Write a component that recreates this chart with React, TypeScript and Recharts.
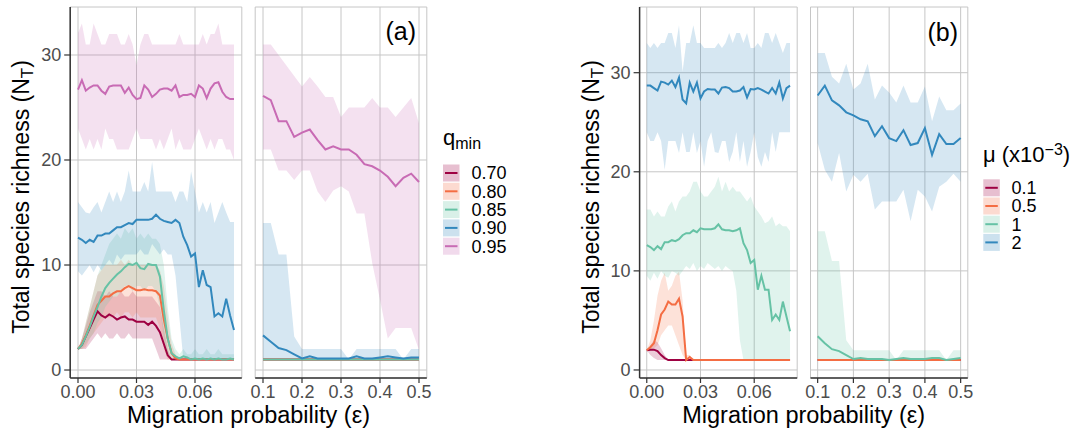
import React from 'react';
import { ComposedChart, Area, Line, XAxis, YAxis, CartesianGrid } from 'recharts';

const FONT = '"Liberation Sans", Arial, Helvetica, sans-serif';

// ---------- x grids ----------
const xLeft = [0, 0.002, 0.004, 0.006, 0.008, 0.01, 0.012, 0.014, 0.016, 0.018, 0.02, 0.022, 0.024, 0.026, 0.028, 0.03, 0.032, 0.034, 0.036, 0.038, 0.04, 0.042, 0.044, 0.046, 0.048, 0.05, 0.052, 0.054, 0.056, 0.058, 0.06, 0.062, 0.064, 0.066, 0.068, 0.07, 0.072, 0.074, 0.076, 0.078, 0.08];
const xRight = [0.1, 0.12, 0.14, 0.16, 0.18, 0.2, 0.22, 0.24, 0.26, 0.28, 0.3, 0.32, 0.34, 0.36, 0.38, 0.4, 0.42, 0.44, 0.46, 0.48, 0.5];

const xTicksLeft = [0, 0.03, 0.06];
const xTicksRight = [0.1, 0.2, 0.3, 0.4, 0.5];
const yTicks = [0, 10, 20, 30];

// ---------- panel (a): q_min ----------
const qLabels = ['0.70', '0.80', '0.85', '0.90', '0.95'];
const qColors = ['#9E0142', '#F46D43', '#66C2A5', '#3288BD', '#C86BB4'];

const a70Mean = [2.0, 2.4, 3.2, 4.0, 4.8, 5.6, 5.2, 5.0, 5.3, 5.1, 4.8, 5.0, 5.1, 4.8, 4.8, 4.6, 4.6, 4.6, 4.3, 4.6, 4.2, 3.6, 2.5, 1.4, 1, 1, 1, 1, 1, 1, 1, 1, 1, 1, 1, 1, 1, 1, 1, 1, 1];
const a70Hi = [2.0, 3.0, 4.2, 5.5, 6.5, 7.5, 7.5, 7.0, 7.5, 7.0, 7.0, 7.5, 7.0, 7.0, 7.5, 7.0, 7.0, 7.0, 7.0, 7.0, 6.5, 6.0, 4.0, 2.0, 1, 1, 1, 1, 1, 1, 1, 1, 1, 1, 1, 1, 1, 1, 1, 1, 1];
const a70Lo = [2.0, 2.0, 2.0, 2.5, 3.0, 3.5, 3.0, 3.5, 3.0, 3.0, 3.5, 3.0, 3.0, 3.5, 3.0, 3.0, 3.0, 3.0, 3.0, 3.0, 2.0, 1.0, 1.0, 1.0, 1, 1, 1, 1, 1, 1, 1, 1, 1, 1, 1, 1, 1, 1, 1, 1, 1];

const a80Mean = [2.0, 2.5, 3.3, 4.2, 5.2, 6.2, 6.6, 7.0, 7.0, 7.3, 7.5, 7.5, 7.8, 8.0, 7.8, 7.6, 7.6, 7.7, 7.6, 7.6, 7.5, 7.1, 4.8, 3.0, 1.6, 1.1, 1, 1, 1, 1, 1, 1, 1, 1, 1, 1, 1, 1, 1, 1, 1];
const a80Hi = [2.0, 3.0, 4.5, 6.0, 7.5, 9.0, 9.5, 10.0, 10.0, 10.0, 10.0, 10.5, 10.0, 10.5, 10.0, 10.0, 10.0, 10.0, 10.0, 10.0, 10.0, 9.5, 8.0, 5.0, 2.5, 1.5, 1, 1, 1, 1, 1, 1, 1, 1, 1, 1, 1, 1, 1, 1, 1];
const a80Lo = [2.0, 2.0, 2.2, 3.0, 3.5, 4.0, 4.5, 5.0, 5.0, 5.0, 5.5, 5.0, 5.5, 5.5, 5.0, 5.5, 5.0, 5.0, 5.0, 5.0, 5.0, 4.0, 2.0, 1.0, 1.0, 1.0, 1, 1, 1, 1, 1, 1, 1, 1, 1, 1, 1, 1, 1, 1, 1];

const a85Mean = [2.0, 2.4, 3.2, 4.1, 5.1, 6.0, 7.0, 7.8, 8.3, 8.7, 9.1, 9.4, 9.8, 10.1, 10.0, 10.2, 9.7, 9.6, 10.1, 10.0, 10.0, 8.9, 5.7, 3.0, 1.6, 1.3, 1.1, 1.3, 1.2, 1.0, 1.1, 1.0, 1.1, 1.0, 1.1, 1.0, 1.1, 1.0, 1.0, 1.1, 1.0];
const a85Hi = [2.0, 3.0, 4.5, 6.0, 7.5, 9.0, 10.0, 11.0, 12.0, 12.5, 13.0, 12.5, 13.5, 13.0, 13.5, 12.5, 13.0, 12.5, 13.0, 12.5, 12.5, 12.0, 10.0, 6.0, 3.0, 2.0, 1.5, 2.0, 1.5, 1.5, 2.0, 1.5, 1.5, 2.0, 1.5, 1.5, 2.0, 1.5, 1.5, 1.5, 1.5];
const a85Lo = [2.0, 2.0, 2.5, 3.0, 3.5, 4.5, 5.0, 6.0, 6.5, 7.0, 7.0, 7.5, 8.0, 8.0, 7.5, 8.0, 8.0, 7.5, 8.0, 8.0, 7.5, 6.0, 3.0, 1.5, 1, 1, 1, 1, 1, 1, 1, 1, 1, 1, 1, 1, 1, 1, 1, 1, 1];

const a90Mean = [12.6, 12.4, 12.1, 12.4, 12.2, 12.8, 12.8, 13.0, 13.0, 13.3, 13.6, 13.6, 13.8, 14.0, 13.9, 14.3, 14.3, 14.3, 14.3, 14.4, 14.8, 14.4, 14.2, 14.1, 14.0, 14.3, 14.0, 12.7, 11.9, 10.8, 11.1, 7.9, 9.5, 8.1, 7.9, 5.1, 5.4, 5.1, 6.8, 5.2, 3.8];
const a90Hi = [16.0, 15.5, 15.0, 14.9, 15.5, 16.0, 15.0, 16.0, 17.0, 16.0, 17.0, 16.0, 17.0, 19.0, 17.0, 17.0, 17.0, 17.9, 17.0, 19.8, 17.0, 17.0, 17.0, 17.0, 17.0, 16.0, 17.0, 17.0, 16.0, 18.9, 17.0, 15.0, 16.0, 15.0, 16.0, 14.0, 15.0, 16.0, 15.0, 14.1, 14.1];
const a90Lo = [9.4, 9.0, 9.5, 10.0, 9.3, 10.0, 9.5, 10.0, 10.5, 10.0, 11.0, 10.5, 11.0, 11.0, 11.0, 11.0, 11.5, 11.0, 11.0, 12.0, 11.5, 11.0, 11.5, 11.0, 11.0, 9.0, 5.0, 1, 1, 1, 1, 1, 1, 1, 1, 1, 1, 1, 1, 1, 1];

const a95Mean = [26.7, 27.6, 26.6, 26.9, 27.1, 27.1, 26.6, 26.3, 27.0, 27.1, 27.1, 27.1, 26.4, 26.9, 26.2, 25.8, 25.9, 27.1, 26.7, 26.0, 26.3, 26.7, 26.8, 26.8, 26.6, 27.1, 26.0, 26.2, 26.2, 26.3, 26.0, 27.1, 26.8, 25.9, 26.8, 27.3, 27.4, 26.5, 26.0, 25.8, 25.8];
const a95Hi = [32.1, 33.0, 31.0, 31.0, 33.0, 32.0, 31.0, 31.0, 32.0, 32.0, 32.0, 31.0, 31.0, 32.0, 31.0, 29.0, 31.0, 32.0, 32.0, 31.0, 31.0, 31.0, 31.0, 31.0, 31.0, 31.0, 32.0, 31.0, 31.0, 31.0, 31.0, 31.0, 32.0, 31.0, 32.0, 32.0, 33.0, 31.0, 31.0, 31.0, 31.0];
const a95Lo = [23, 22, 21, 22, 21, 22, 21, 23, 22, 22, 21, 21, 21, 21, 22, 23, 22, 22, 22, 22, 21, 22, 21, 22, 23, 21, 22, 21, 21, 21, 22, 23, 22, 21, 22, 21, 22, 22, 21, 21, 20];

const a70MeanR = [1, 1, 1, 1, 1, 1, 1, 1, 1, 1, 1, 1, 1, 1, 1, 1, 1, 1, 1, 1, 1];
const a70HiR = [1, 1, 1, 1, 1, 1, 1, 1, 1, 1, 1, 1, 1, 1, 1, 1, 1, 1, 1, 1, 1];
const a70LoR = [1, 1, 1, 1, 1, 1, 1, 1, 1, 1, 1, 1, 1, 1, 1, 1, 1, 1, 1, 1, 1];
const a80MeanR = [1, 1, 1, 1, 1, 1, 1, 1, 1, 1, 1, 1, 1, 1, 1, 1, 1, 1, 1, 1, 1];
const a80HiR = [1, 1, 1, 1, 1, 1, 1, 1, 1, 1, 1, 1, 1, 1, 1, 1, 1, 1, 1, 1, 1];
const a80LoR = [1, 1, 1, 1, 1, 1, 1, 1, 1, 1, 1, 1, 1, 1, 1, 1, 1, 1, 1, 1, 1];
const a85MeanR = [1, 1, 1, 1, 1, 1, 1, 1, 1, 1, 1, 1, 1, 1, 1, 1, 1, 1, 1, 1, 1];
const a85HiR = [1, 1, 1, 1, 1, 1, 1, 1, 1, 1, 1, 1, 1, 1, 1, 1, 1, 1, 1, 1, 1];
const a85LoR = [1, 1, 1, 1, 1, 1, 1, 1, 1, 1, 1, 1, 1, 1, 1, 1, 1, 1, 1, 1, 1];
const a90MeanR = [3.3, 2.7, 2.1, 1.9, 1.5, 1.1, 1.3, 1.1, 1.1, 1.1, 1.1, 1.1, 1.3, 1.1, 1.1, 1.2, 1.3, 1.2, 1.1, 1.2, 1.2];
const a90HiR = [14.0, 14.0, 11.0, 11.0, 3.2, 2.0, 2.0, 2.0, 2.0, 2.0, 2.0, 1.0, 2.0, 2.0, 2.0, 2.0, 2.0, 2.0, 1.0, 2.0, 2.0];
const a90LoR = [1, 1, 1, 1, 1, 1, 1, 1, 1, 1, 1, 1, 1, 1, 1, 1, 1, 1, 1, 1, 1];
const a95MeanR = [26.1, 25.7, 23.7, 23.7, 22.2, 22.6, 22.9, 21.9, 21.0, 21.3, 21.0, 21.0, 20.5, 19.6, 19.4, 19.0, 18.4, 17.5, 18.3, 18.7, 17.9];
const a95HiR = [31.0, 31.0, 30.0, 29.0, 28.0, 27.0, 27.9, 27.0, 26.0, 26.0, 24.1, 25.0, 25.0, 25.0, 25.9, 25.0, 25.0, 24.1, 25.0, 25.9, 23.5];
const a95LoR = [21.0, 21.0, 19.0, 19.0, 18.1, 19.0, 19.0, 17.0, 16.0, 17.1, 17.5, 17.0, 14.9, 14.9, 10.2, 6.7, 3.0, 4.0, 4.0, 4.0, 1.9];

// ---------- panel (b): mu ----------
const muLabels = ['0.1', '0.5', '1', '2'];
const muColors = ['#9E0142', '#F46D43', '#66C2A5', '#3288BD'];

const b01Mean = [2.0, 2.05, 2.05, 1.9, 1.5, 1.2, 1, 1, 1, 1, 1, 1, 1, 1, 1, 1, 1, 1, 1, 1, 1, 1, 1, 1, 1, 1, 1, 1, 1, 1, 1, 1, 1, 1, 1, 1, 1, 1, 1, 1, 1];
const b01Hi = [2.0, 2.5, 3.0, 2.8, 2.2, 1.5, 1, 1, 1, 1, 1, 1, 1, 1, 1, 1, 1, 1, 1, 1, 1, 1, 1, 1, 1, 1, 1, 1, 1, 1, 1, 1, 1, 1, 1, 1, 1, 1, 1, 1, 1];
const b01Lo = [2.0, 1.5, 1.2, 1, 1, 1, 1, 1, 1, 1, 1, 1, 1, 1, 1, 1, 1, 1, 1, 1, 1, 1, 1, 1, 1, 1, 1, 1, 1, 1, 1, 1, 1, 1, 1, 1, 1, 1, 1, 1, 1];

const b05Mean = [2.0, 2.3, 2.7, 4.0, 5.6, 6.1, 6.9, 6.6, 6.6, 7.2, 5.4, 1.0, 1.3, 1, 1, 1, 1, 1, 1, 1, 1, 1, 1, 1, 1, 1, 1, 1, 1, 1, 1, 1, 1, 1, 1, 1, 1, 1, 1, 1, 1];
const b05Hi = [2.0, 3.0, 5.0, 7.5, 9.0, 9.8, 8.0, 8.5, 9.5, 9.9, 7.0, 1.5, 1.5, 1, 1, 1, 1, 1, 1, 1, 1, 1, 1, 1, 1, 1, 1, 1, 1, 1, 1, 1, 1, 1, 1, 1, 1, 1, 1, 1, 1];
const b05Lo = [2.0, 2.0, 2.2, 2.5, 3.5, 4.0, 4.5, 4.5, 3.5, 2.5, 1.5, 1.0, 1.0, 1, 1, 1, 1, 1, 1, 1, 1, 1, 1, 1, 1, 1, 1, 1, 1, 1, 1, 1, 1, 1, 1, 1, 1, 1, 1, 1, 1];

const b1Mean = [12.6, 12.4, 12.1, 12.5, 12.2, 12.9, 12.9, 13.1, 13.0, 13.2, 13.6, 13.8, 13.8, 14.1, 13.9, 14.3, 14.2, 14.2, 14.2, 14.3, 14.7, 14.2, 14.1, 14.1, 14.0, 14.1, 14.3, 12.8, 12.1, 10.8, 11.1, 8.1, 9.5, 8.1, 8.1, 5.05, 5.6, 5.05, 6.9, 5.4, 3.9];
const b1Hi = [16.2, 16.2, 15.5, 16.0, 15.5, 15.5, 16.5, 17.0, 16.0, 17.0, 17.5, 17.5, 18.0, 19.0, 19.0, 18.0, 17.5, 17.5, 18.0, 18.5, 19.5, 18.0, 19.0, 18.0, 18.5, 18.0, 18.0, 17.5, 17.0, 17.5, 16.5, 16.0, 15.5, 14.8, 15.0, 15.5, 14.5, 14.8, 14.5, 14.5, 14.0];
const b1Lo = [9.5, 9.0, 9.8, 9.2, 10.0, 9.5, 9.3, 10.0, 9.8, 9.5, 10.0, 10.5, 10.2, 10.8, 10.0, 10.5, 10.2, 10.8, 10.5, 10.2, 10.5, 10.0, 10.5, 10.2, 10.0, 8.0, 3.0, 1, 1, 1, 1, 1, 1, 1, 1, 1, 1, 1, 1, 1, 1];

const b2Mean = [28.7, 28.7, 28.45, 28.2, 29.1, 29.0, 28.8, 29.2, 28.55, 29.5, 27.3, 26.9, 29.0, 28.1, 29.0, 27.4, 28.1, 28.35, 28.3, 28.3, 27.9, 28.5, 28.55, 28.45, 28.1, 28.1, 28.2, 28.55, 27.5, 28.35, 28.3, 28.45, 28.3, 28.1, 27.9, 28.45, 27.9, 29.0, 27.4, 28.45, 28.7];
const b2Hi = [33.0, 32.5, 33.0, 32.5, 33.0, 33.0, 34.0, 34.0, 32.5, 34.8, 30.1, 33.0, 33.0, 34.8, 33.0, 33.0, 32.5, 32.5, 32.5, 32.5, 33.0, 32.5, 33.0, 34.0, 33.0, 34.0, 34.0, 33.0, 34.0, 32.5, 32.5, 33.0, 32.5, 34.0, 34.0, 33.0, 34.0, 33.0, 32.0, 33.0, 33.0];
const b2Lo = [24.0, 23.1, 23.1, 24.0, 23.1, 20.2, 23.1, 23.1, 23.1, 21.9, 24.0, 22.0, 22.0, 24.0, 21.9, 23.1, 20.5, 23.1, 24.0, 22.0, 21.9, 23.1, 23.1, 21.0, 22.0, 24.0, 21.0, 23.1, 20.5, 22.0, 24.0, 21.5, 20.5, 22.0, 21.0, 24.0, 22.0, 24.0, 24.0, 24.0, 24.0];

const b01MeanR = [1, 1, 1, 1, 1, 1, 1, 1, 1, 1, 1, 1, 1, 1, 1, 1, 1, 1, 1, 1, 1];
const b01HiR = [1, 1, 1, 1, 1, 1, 1, 1, 1, 1, 1, 1, 1, 1, 1, 1, 1, 1, 1, 1, 1];
const b01LoR = [1, 1, 1, 1, 1, 1, 1, 1, 1, 1, 1, 1, 1, 1, 1, 1, 1, 1, 1, 1, 1];
const b05MeanR = [1, 1, 1, 1, 1, 1, 1, 1, 1, 1, 1, 1, 1, 1, 1, 1, 1, 1, 1, 1, 1];
const b05HiR = [1, 1, 1, 1, 1, 1, 1, 1, 1, 1, 1, 1, 1, 1, 1, 1, 1, 1, 1, 1, 1];
const b05LoR = [1, 1, 1, 1, 1, 1, 1, 1, 1, 1, 1, 1, 1, 1, 1, 1, 1, 1, 1, 1, 1];
const b1MeanR = [3.4, 2.7, 2.1, 1.9, 1.5, 1.1, 1.2, 1.1, 1.1, 1.1, 1.0, 1.1, 1.2, 1.1, 1.1, 1.1, 1.2, 1.2, 1.0, 1.1, 1.2];
const b1HiR = [14.0, 14.0, 11.0, 11.0, 3.0, 2.0, 2.0, 2.0, 2.0, 2.0, 2.0, 1.0, 2.0, 2.0, 2.0, 2.0, 2.0, 2.0, 1.0, 2.0, 2.0];
const b1LoR = [1, 1, 1, 1, 1, 1, 1, 1, 1, 1, 1, 1, 1, 1, 1, 1, 1, 1, 1, 1, 1];
const b2MeanR = [27.7, 28.7, 27.2, 26.7, 26.0, 25.7, 25.3, 25.1, 23.6, 24.6, 23.4, 23.1, 24.2, 22.7, 22.9, 24.4, 21.7, 23.8, 22.8, 22.8, 23.4];
const b2HiR = [32.0, 32.0, 29.6, 28.9, 30.9, 28.3, 28.9, 30.9, 27.3, 28.7, 28.0, 27.0, 28.7, 27.0, 27.0, 28.6, 25.1, 27.6, 26.2, 26.2, 26.9];
const b2LoR = [22.9, 20.2, 19.0, 21.9, 18.0, 19.7, 19.0, 19.8, 16.2, 17.0, 17.0, 17.0, 18.2, 15.0, 18.2, 17.5, 16.0, 18.5, 19.0, 19.8, 19.0];

type Series = { mean: number[]; lo: number[]; hi: number[] };

function buildRows(x: number[], series: Series[]) {
  return x.map((xv, i) => {
    const row: any = { x: xv };
    series.forEach((s, k) => {
      row['m' + k] = s.mean[i];
      row['r' + k] = [s.lo[i], s.hi[i]];
    });
    return row;
  });
}

const rowsAL = buildRows(xLeft, [
  { mean: a70Mean, lo: a70Lo, hi: a70Hi },
  { mean: a80Mean, lo: a80Lo, hi: a80Hi },
  { mean: a85Mean, lo: a85Lo, hi: a85Hi },
  { mean: a90Mean, lo: a90Lo, hi: a90Hi },
  { mean: a95Mean, lo: a95Lo, hi: a95Hi },
]);
const rowsAR = buildRows(xRight, [
  { mean: a70MeanR, lo: a70LoR, hi: a70HiR },
  { mean: a80MeanR, lo: a80LoR, hi: a80HiR },
  { mean: a85MeanR, lo: a85LoR, hi: a85HiR },
  { mean: a90MeanR, lo: a90LoR, hi: a90HiR },
  { mean: a95MeanR, lo: a95LoR, hi: a95HiR },
]);
const rowsBL = buildRows(xLeft, [
  { mean: b01Mean, lo: b01Lo, hi: b01Hi },
  { mean: b05Mean, lo: b05Lo, hi: b05Hi },
  { mean: b1Mean, lo: b1Lo, hi: b1Hi },
  { mean: b2Mean, lo: b2Lo, hi: b2Hi },
]);
const rowsBR = buildRows(xRight, [
  { mean: b01MeanR, lo: b01LoR, hi: b01HiR },
  { mean: b05MeanR, lo: b05LoR, hi: b05HiR },
  { mean: b1MeanR, lo: b1LoR, hi: b1HiR },
  { mean: b2MeanR, lo: b2LoR, hi: b2HiR },
]);

const H = 431;
const PLOT_TOP = 7;
const PLOT_BOTTOM = 378;

type FacetProps = {
  rows: any[];
  colors: string[];
  left: number;
  width: number;
  plotLeft: number;
  plotRight: number;
  xDomain: [number, number];
  xTicks: number[];
  xDigits: number;
  yDomain: [number, number];
  showY: boolean;
};

function Facet(p: FacetProps) {
  const yWidth = p.showY ? p.plotLeft - p.left : 0;
  const marginLeft = p.showY ? 0 : p.plotLeft - p.left;
  const marginRight = p.left + p.width - p.plotRight;
  const tickStyle = { fill: '#4d4d4d', fontSize: 18, fontFamily: FONT };
  return (
    <div style={{ position: 'absolute', left: p.left, top: 0 }}>
      <ComposedChart
        width={p.width}
        height={H}
        data={p.rows}
        margin={{ top: PLOT_TOP, right: marginRight, bottom: 0, left: marginLeft }}
      >
        <CartesianGrid stroke="#c6c6c6" strokeWidth={1} />
        <XAxis
          dataKey="x"
          type="number"
          domain={p.xDomain}
          ticks={p.xTicks}
          allowDataOverflow
          interval={0}
          height={H - PLOT_BOTTOM}
          tickSize={5}
          tickMargin={2}
          tickFormatter={(v: number) => v.toFixed(p.xDigits)}
          tick={tickStyle}
          axisLine={{ stroke: '#333333', strokeWidth: 1.5 }}
          tickLine={{ stroke: '#333333', strokeWidth: 1.2 }}
        />
        <YAxis
          type="number"
          domain={p.yDomain}
          ticks={yTicks}
          allowDataOverflow
          hide={!p.showY}
          width={p.showY ? yWidth : 0}
          tickSize={6}
          tickMargin={3}
          tick={tickStyle}
          axisLine={{ stroke: '#333333', strokeWidth: 1.5 }}
          tickLine={{ stroke: '#333333', strokeWidth: 1.2 }}
        />
        {p.colors.map((c, k) => (
          <Area
            key={'r' + k}
            dataKey={'r' + k}
            type="linear"
            stroke="none"
            fill={c}
            fillOpacity={0.2}
            isAnimationActive={false}
            dot={false}
            activeDot={false}
          />
        ))}
        {p.colors.map((c, k) => (
          <Line
            key={'m' + k}
            dataKey={'m' + k}
            type="linear"
            stroke={c}
            strokeWidth={2}
            dot={false}
            activeDot={false}
            isAnimationActive={false}
          />
        ))}
      </ComposedChart>
    </div>
  );
}

function LegendKeys({ x, top, pitch, labels, colors, labelX }: { x: number; top: number; pitch: number; labels: string[]; colors: string[]; labelX: number }) {
  return (
    <g>
      {labels.map((l, i) => {
        const y0 = top + i * pitch;
        const cy = y0 + 8.5;
        return (
          <g key={l}>
            <rect x={x} y={y0} width={16.5} height={17} fill={colors[i]} fillOpacity={0.25} />
            <line x1={x + 2} x2={x + 14.5} y1={cy} y2={cy} stroke={colors[i]} strokeWidth={2} />
            <text x={labelX} y={cy + 6.3} fontSize={18} fontFamily={FONT} fill="#000">
              {l}
            </text>
          </g>
        );
      })}
    </g>
  );
}

export default function App() {
  const yDomA: [number, number] = [-0.76, 34.57];
  const yDomB: [number, number] = [-0.81, 36.63];
  return (
    <div style={{ position: 'absolute', left: 0, top: 0, width: 1083, height: 431, background: '#fff', overflow: 'hidden' }}>
      <Facet rows={rowsAL} colors={qColors} left={0} width={262} plotLeft={70.2} plotRight={241.8}
        xDomain={[-0.004, 0.084]} xTicks={xTicksLeft} xDigits={2} yDomain={yDomA} showY />
      <Facet rows={rowsAR} colors={qColors} left={240} width={205} plotLeft={255.2} plotRight={426.8}
        xDomain={[0.08, 0.52]} xTicks={xTicksRight} xDigits={1} yDomain={yDomA} showY={false} />
      <Facet rows={rowsBL} colors={muColors} left={570} width={245} plotLeft={639.6} plotRight={797.2}
        xDomain={[-0.004, 0.084]} xTicks={xTicksLeft} xDigits={2} yDomain={yDomB} showY />
      <Facet rows={rowsBR} colors={muColors} left={795} width={190} plotLeft={810.5} plotRight={967.8}
        xDomain={[0.08, 0.52]} xTicks={xTicksRight} xDigits={1} yDomain={yDomB} showY={false} />

      <svg width={1083} height={431} style={{ position: 'absolute', left: 0, top: 0, pointerEvents: 'none' }}>
        {/* y titles */}
        <text transform="translate(29,197) rotate(-90)" textAnchor="middle" fontSize={23} fontFamily={FONT} fill="#000">
          Total species richness (N<tspan dy={4} fontSize={17}>T</tspan><tspan dy={-4}>)</tspan>
        </text>
        <text transform="translate(598.5,197) rotate(-90)" textAnchor="middle" fontSize={23} fontFamily={FONT} fill="#000">
          Total species richness (N<tspan dy={4} fontSize={17}>T</tspan><tspan dy={-4}>)</tspan>
        </text>
        {/* x titles */}
        <text x={248.5} y={423} textAnchor="middle" fontSize={23.5} fontFamily={FONT} fill="#000">
          Migration probability (ε)
        </text>
        <text x={803.7} y={423} textAnchor="middle" fontSize={23.5} fontFamily={FONT} fill="#000">
          Migration probability (ε)
        </text>
        {/* panel tags */}
        <text x={416} y={40} textAnchor="end" fontSize={25} fontFamily={FONT} fill="#000">(a)</text>
        <text x={958} y={41} textAnchor="end" fontSize={25} fontFamily={FONT} fill="#000">(b)</text>
        {/* legend a */}
        <text x={443} y={145} fontSize={22} fontFamily={FONT} fill="#000">
          q<tspan dy={4} fontSize={16}>min</tspan>
        </text>
        <LegendKeys x={443} top={164.5} pitch={18.3} labels={qLabels} colors={qColors} labelX={471.5} />
        {/* legend b */}
        <text x={983} y={161.7} fontSize={22} fontFamily={FONT} fill="#000">
          μ (x10<tspan dy={-7} fontSize={16}>−3</tspan><tspan dy={7}>)</tspan>
        </text>
        <LegendKeys x={983.3} top={179.3} pitch={18.2} labels={muLabels} colors={muColors} labelX={1011.5} />
      </svg>
    </div>
  );
}
